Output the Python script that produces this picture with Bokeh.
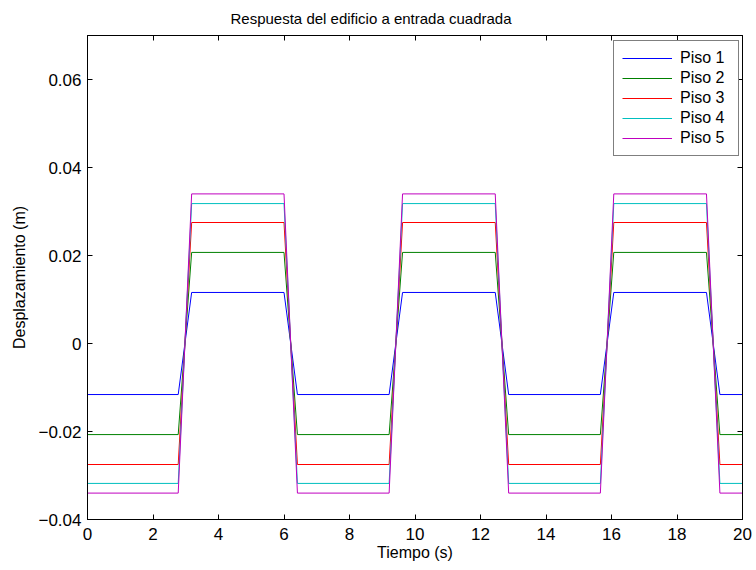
from bokeh.plotting import figure
from bokeh.models import LinearAxis, FixedTicker, Legend, LegendItem, Range1d
from bokeh.embed import file_html
from bokeh.resources import INLINE

# Breakpoint times (s) of the sampled square response
t = [0, 2.77, 3.18, 6.00, 6.41, 9.21, 9.62, 12.45, 12.86, 15.66, 16.07, 18.90, 19.31, 20]

# Displacement (m) for each floor at those times
piso1 = [-0.0116, -0.0116, 0.0116, 0.0116, -0.0116, -0.0116, 0.0116, 0.0116, -0.0116, -0.0116, 0.0116, 0.0116, -0.0116, -0.0116]
piso2 = [-0.0207, -0.0207, 0.0207, 0.0207, -0.0207, -0.0207, 0.0207, 0.0207, -0.0207, -0.0207, 0.0207, 0.0207, -0.0207, -0.0207]
piso3 = [-0.0275, -0.0275, 0.0275, 0.0275, -0.0275, -0.0275, 0.0275, 0.0275, -0.0275, -0.0275, 0.0275, 0.0275, -0.0275, -0.0275]
piso4 = [-0.0318, -0.0318, 0.0318, 0.0318, -0.0318, -0.0318, 0.0318, 0.0318, -0.0318, -0.0318, 0.0318, 0.0318, -0.0318, -0.0318]
piso5 = [-0.0340, -0.0340, 0.0340, 0.0340, -0.0340, -0.0340, 0.0340, 0.0340, -0.0340, -0.0340, 0.0340, 0.0340, -0.0340, -0.0340]

series = [piso1, piso2, piso3, piso4, piso5]
labels = ["Piso 1", "Piso 2", "Piso 3", "Piso 4", "Piso 5"]
colors = ["#0000ff", "#008000", "#ff0000", "#00bfbf", "#bf00bf"]

x_ticks = [0, 2, 4, 6, 8, 10, 12, 14, 16, 18, 20]
y_ticks = [-0.04, -0.02, 0, 0.02, 0.04, 0.06]
y_tick_labels = ["\u22120.04", "\u22120.02", "0", "0.02", "0.04", "0.06"]

FONT = "Liberation Sans"

p = figure(width=756, height=570, frame_width=655, frame_height=484,
           x_range=Range1d(0, 20), y_range=Range1d(-0.04, 0.07),
           output_backend="svg", toolbar_location=None,
           min_border_left=87, min_border_right=14, min_border_top=35, min_border_bottom=51)
p.background_fill_color = "white"
p.border_fill_color = "white"
p.outline_line_color = "black"
p.outline_line_width = 1
p.xgrid.visible = False
p.ygrid.visible = False

p.title.text = "Respuesta del edificio a entrada cuadrada"
p.title.align = "left"
p.title.offset = 143
p.title.vertical_align = "top"
p.title.text_font = FONT
p.title.text_font_size = "15px"
p.title.text_font_style = "normal"
p.title.text_color = "black"
p.title.standoff = 14

items = []
for s, lab, c in zip(series, labels, colors):
    r = p.line(t, s, line_color=c, line_width=1)
    items.append(LegendItem(label=lab, renderers=[r]))

def style_axis(ax, show_labels=True):
    ax.axis_line_color = "black"
    ax.major_tick_line_color = "black"
    ax.major_tick_in = 5
    ax.major_tick_out = 0
    ax.minor_tick_line_color = None
    ax.major_label_text_font = FONT
    ax.major_label_text_font_size = "17px"
    ax.major_label_text_color = "black"
    ax.axis_label_text_font = FONT
    ax.axis_label_text_font_size = "16px"
    ax.axis_label_text_font_style = "normal"
    ax.axis_label_text_color = "black"
    if not show_labels:
        ax.major_label_text_font_size = "0px"
        ax.major_label_text_alpha = 0

p.xaxis.ticker = FixedTicker(ticks=x_ticks)
p.yaxis.ticker = FixedTicker(ticks=y_ticks)
p.yaxis.major_label_overrides = {v: l for v, l in zip(y_ticks, y_tick_labels)}
p.xaxis.axis_label = "Tiempo (s)"
p.yaxis.axis_label = "Desplazamiento (m)"
style_axis(p.xaxis[0])
style_axis(p.yaxis[0])
p.xaxis.major_label_standoff = 8
p.yaxis.major_label_standoff = 6
p.xaxis.axis_label_standoff = 1
p.yaxis.axis_label_standoff = 7

ax_r = LinearAxis(ticker=FixedTicker(ticks=y_ticks))
style_axis(ax_r, False)
ax_r.major_label_standoff = 0
p.add_layout(ax_r, "right")
ax_t = LinearAxis(ticker=FixedTicker(ticks=x_ticks))
style_axis(ax_t, False)
ax_t.major_label_standoff = 0
p.add_layout(ax_t, "above")

legend = Legend(items=items, location=(526, 363))
legend.border_line_color = "black"
legend.border_line_width = 1
legend.background_fill_color = "white"
legend.background_fill_alpha = 1
legend.label_text_font = FONT
legend.label_text_font_size = "16px"
legend.label_text_color = "black"
legend.glyph_width = 50
legend.glyph_height = 18
legend.label_height = 18
legend.label_width = 50
legend.spacing = 2
legend.padding = 8
legend.margin = 0
legend.label_standoff = 8
p.add_layout(legend)

open("out.html", "w").write(file_html(p, INLINE))
